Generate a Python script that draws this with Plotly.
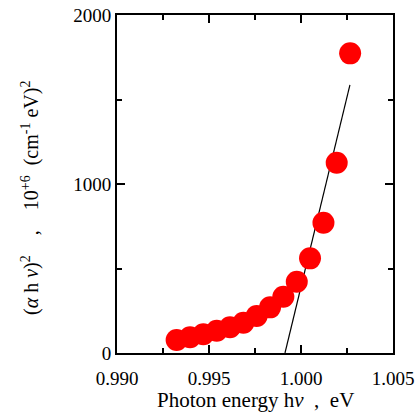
import plotly.graph_objects as go

# Photon energy (eV) and (alpha h nu)^2 in units of 1e6 (cm^-1 eV)^2
energy = [0.99324, 0.99397, 0.99469, 0.99542, 0.99614, 0.99687, 0.99759,
          0.99832, 0.99904, 0.99977, 1.00049, 1.00122, 1.00194, 1.00267]
alpha_hv_sq = [77, 93, 111, 132, 152, 179, 219, 270, 333, 422, 560, 771, 1126, 1773]

# Linear extrapolation of the absorption edge
fit_energy = [0.99913, 1.00266]
fit_value = [0, 1586]

x_ticks = [0.990, 0.995, 1.000, 1.005]
x_ticktext = ["0.990", "0.995", "1.000", "1.005"]
y_ticks = [0, 1000, 2000]

font_family = "Liberation Serif"
W, H = 419, 415
L, R, T, B = 117, 26, 15, 62

fig = go.Figure()
fig.add_trace(go.Scatter(
    x=fit_energy, y=fit_value, mode="lines",
    line=dict(color="black", width=1.2), showlegend=False,
))
fig.add_trace(go.Scatter(
    x=energy, y=alpha_hv_sq, mode="markers",
    marker=dict(color="#ff0000", size=22, line=dict(width=0)),
    showlegend=False,
))

axis_common = dict(
    showline=True, linecolor="black", linewidth=2, mirror="allticks",
    ticks="inside", ticklen=8, tickwidth=2, tickcolor="black",
    showgrid=False, zeroline=False, automargin=False,
    tickfont=dict(family=font_family, size=19, color="black"),
)

fig.update_xaxes(
    range=[0.990, 1.005], tickvals=x_ticks, ticktext=x_ticktext,
    ticklabelstandoff=7,
    minor=dict(tickvals=[0.9925, 0.9975, 1.0025], ticks="inside", ticklen=5,
               tickwidth=2, tickcolor="black"),
    **axis_common,
)
fig.update_yaxes(
    range=[0, 2000], tickvals=y_ticks,
    minor=dict(tickvals=[500, 1500], ticks="inside", ticklen=5,
               tickwidth=2, tickcolor="black"),
    **axis_common,
)

sp = "&nbsp;"
fig.add_annotation(
    text="Photon energy h<i>ν</i>" + sp * 2 + "," + sp * 2 + "eV",
    xref="paper", yref="paper", x=0.5, y=-(400 - (H - B)) / (H - T - B),
    xanchor="center", yanchor="middle", showarrow=False,
    font=dict(family=font_family, size=21, color="black"),
)
fig.add_annotation(
    text="(<i>α</i>" + sp + "h" + sp + "<i>ν</i>)<sup>2</sup>" + sp * 4 + "," + sp * 4
         + "10<sup>+6</sup>" + sp * 2 + "(cm<sup>-1</sup>" + sp + "eV)<sup>2</sup>",
    xref="paper", yref="paper", x=-(L - 30) / (W - L - R), y=(H - B - 198) / (H - T - B),
    xanchor="center", yanchor="middle", textangle=-90, showarrow=False,
    font=dict(family=font_family, size=20, color="black"),
)

fig.update_layout(
    width=W, height=H,
    margin=dict(l=L, r=R, t=T, b=B),
    paper_bgcolor="white", plot_bgcolor="white",
    font=dict(family=font_family, color="black"),
)

fig.write_html("out.html")
